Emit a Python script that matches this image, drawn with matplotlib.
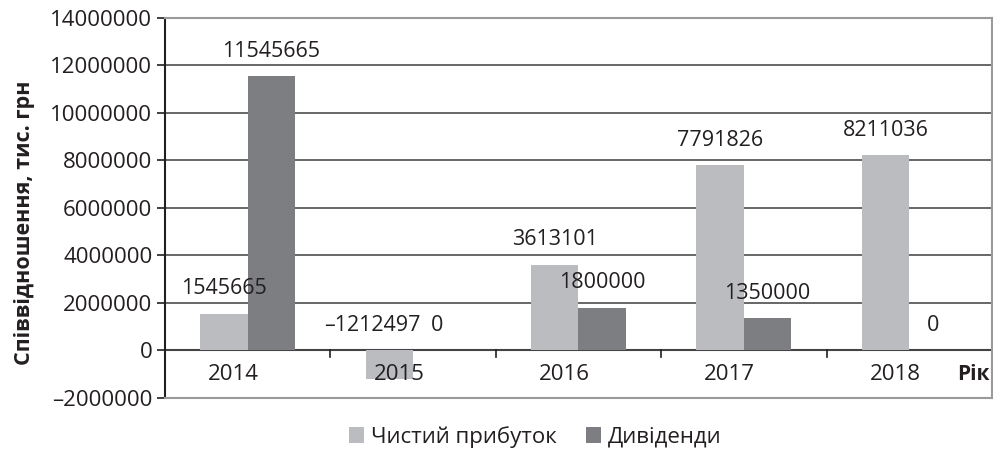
import matplotlib
matplotlib.use("Agg")
import matplotlib.pyplot as plt
import numpy as np
from matplotlib.ticker import FuncFormatter

plt.rcParams['font.family'] = ['Open Sans', 'DejaVu Sans']

roky = ["2014", "2015", "2016", "2017", "2018"]
prybutok = [1545665, -1212497, 3613101, 7791826, 8211036]
dyvidendy = [11545665, 0, 1800000, 1350000, 0]
seriyi = ["Чистий прибуток", "Дивіденди"]

svitlyi = "#bbbcc0"
temnyi = "#7d7e82"
tekst = "#231f20"

fig = plt.figure(figsize=(9.93, 4.61), dpi=100)
ax = fig.add_axes([0.166, 0.1367, 0.833, 0.8243])

x = np.arange(len(roky))
w = 0.287
ax.bar(x - w / 2, prybutok, w, color=svitlyi, label=seriyi[0], zorder=3)
ax.bar(x + w / 2, dyvidendy, w, color=temnyi, label=seriyi[1], zorder=3)

ax.set_xlim(-0.5, len(roky) - 0.5)
ax.set_ylim(-2000000, 14000000)
ax.set_yticks(np.arange(-2000000, 14000001, 2000000))
ax.yaxis.set_major_formatter(FuncFormatter(lambda v, p: ("–%d" % -v) if v < 0 else "%d" % v))
ax.tick_params(axis='y', labelsize=16, colors=tekst, length=6, width=1.2, direction='out', pad=3)
ax.set_xticks([])

ax.grid(axis='y', color="#5a5a5a", linewidth=1.3, zorder=0)
ax.set_axisbelow(True)
for s in ["top", "bottom", "right"]:
    ax.spines[s].set_color("#9a9a9a")
    ax.spines[s].set_linewidth(1.5)
ax.spines["left"].set_color(tekst)
ax.spines["left"].set_linewidth(1.5)

# нульова лінія з рисками між категоріями
ax.axhline(0, color="#444444", linewidth=1.5, zorder=2)
for b in np.arange(0.5, len(roky) - 0.5, 1):
    ax.plot([b, b], [0, -260000], color=tekst, linewidth=1.2, zorder=2)

# підписи років
for i, r in enumerate(roky):
    ax.text(i - 0.085, -1000000, r, ha='center', va='center', fontsize=16, color=tekst)
ax.text(0.997, -1000000, "Рік", transform=ax.get_yaxis_transform(), ha='right', va='center',
        fontsize=15, fontweight='bold', color=tekst)

# підписи значень
zsuv = 1050000
for i in range(len(roky)):
    for val, dx in [(prybutok[i], -w / 2), (dyvidendy[i], w / 2)]:
        xs = i + dx
        if val < 0:
            xs -= 0.1
        lab = ("–%d" % -val) if val < 0 else "%d" % val
        ax.text(xs, max(val, 0) + zsuv, lab, ha='center', va='center', fontsize=15.5, color=tekst)

ax.set_ylabel("Співвідношення, тис. грн", fontsize=15.5, fontweight='bold', color=tekst)
ax.yaxis.set_label_coords(-0.157, 0.46)

fig.legend(loc='center', bbox_to_anchor=(535 / 993, 1 - 437 / 461), ncol=2, frameon=False,
           fontsize=16, handlelength=0.7, handleheight=0.7, handletextpad=0.3,
           columnspacing=1.3, labelcolor=tekst)

fig.savefig("out.png", dpi=100)
